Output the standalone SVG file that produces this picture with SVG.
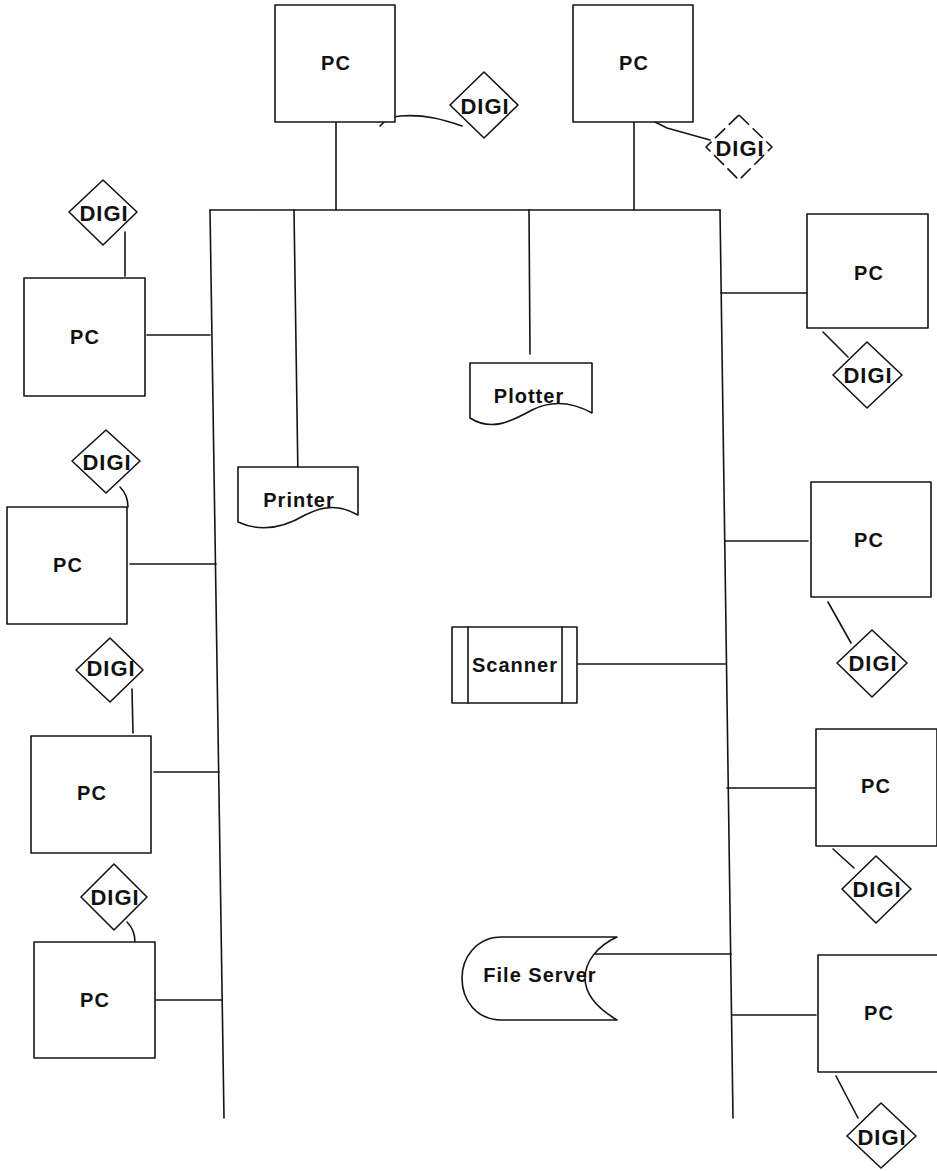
<svg xmlns="http://www.w3.org/2000/svg" width="937" height="1171" viewBox="0 0 937 1171">
<style>
.s{fill:none;stroke:#141414;stroke-width:1.6;stroke-linejoin:round;stroke-linecap:round}
.b{fill:#fff;stroke:#141414;stroke-width:1.6;stroke-linejoin:round}
.t{font-family:"Liberation Sans",Arial,sans-serif;font-weight:bold;font-size:20px;letter-spacing:1px;fill:#111;text-anchor:middle;dominant-baseline:central}
.d{font-family:"Liberation Sans",Arial,sans-serif;font-weight:bold;font-size:22px;letter-spacing:1px;fill:#111;text-anchor:middle;dominant-baseline:central}
.dash{stroke-dasharray:14 5}
</style>
<rect width="937" height="1171" fill="#fff"/>
<g id="connectors" class="s">
  <polyline points="210,210 720,210"/>
  <polyline points="210,210 224,1118"/>
  <polyline points="720,210 733,1118"/>
  <line x1="336" y1="122" x2="336" y2="210"/>
  <line x1="634" y1="122" x2="634" y2="210"/>
  <line x1="294" y1="210" x2="298" y2="479"/>
  <line x1="529" y1="210" x2="530" y2="354"/>
  <line x1="147" y1="335" x2="210" y2="335"/>
  <line x1="130" y1="564" x2="216" y2="564"/>
  <line x1="154" y1="772" x2="219" y2="772"/>
  <line x1="156" y1="1000" x2="222" y2="1000"/>
  <line x1="721" y1="293" x2="807" y2="293"/>
  <line x1="725" y1="541" x2="808" y2="541"/>
  <line x1="578" y1="664" x2="726" y2="664"/>
  <line x1="727" y1="788" x2="815" y2="788"/>
  <line x1="586" y1="954" x2="731" y2="954"/>
  <line x1="732" y1="1015" x2="816" y2="1015"/>
  <path d="M380,126 C385,120 390,117 400,116 C425,114 445,120 462,126"/>
  <polyline points="655,122 667,128 710,140"/>
  <line x1="125" y1="232" x2="125" y2="276"/>
  <path d="M120,487 Q128,495 128,507"/>
  <line x1="132" y1="689" x2="133" y2="733"/>
  <path d="M127,922 Q135,930 135,942"/>
  <line x1="823" y1="332" x2="848" y2="357"/>
  <line x1="828" y1="602" x2="851" y2="643"/>
  <line x1="833" y1="849" x2="854" y2="868"/>
  <line x1="836" y1="1076" x2="858" y2="1118"/>
</g>
<g id="pc-top1"><rect class="b" x="275" y="5" width="120" height="117"/><text class="t" x="336" y="63">PC</text></g>
<g id="pc-top2"><rect class="b" x="573" y="5" width="120" height="117"/><text class="t" x="634" y="63">PC</text></g>
<g id="pc-left1"><rect class="b" x="24" y="278" width="121" height="118"/><text class="t" x="85" y="337">PC</text></g>
<g id="pc-left2"><rect class="b" x="7" y="507" width="120" height="117"/><text class="t" x="68" y="565">PC</text></g>
<g id="pc-left3"><rect class="b" x="31" y="736" width="120" height="117"/><text class="t" x="92" y="793">PC</text></g>
<g id="pc-left4"><rect class="b" x="34" y="942" width="121" height="116"/><text class="t" x="95" y="1000">PC</text></g>
<g id="pc-right1"><rect class="b" x="807" y="214" width="121" height="114"/><text class="t" x="869" y="273">PC</text></g>
<g id="pc-right2"><rect class="b" x="811" y="482" width="120" height="115"/><text class="t" x="869" y="540">PC</text></g>
<g id="pc-right3"><rect class="b" x="816" y="729" width="121" height="117"/><text class="t" x="876" y="786">PC</text></g>
<g id="pc-right4"><rect class="b" x="818" y="955" width="122" height="117"/><text class="t" x="879" y="1013">PC</text></g>
<g id="digi-top1"><polygon class="b" points="484,72 518,105 484,138 450,105"/><text class="d" x="485" y="106">DIGI</text></g>
<g id="digi-top2"><polygon class="b dash" points="739,115 772,147 739,180 706,147"/><text class="d" x="740" y="148">DIGI</text></g>
<g id="digi-left1"><polygon class="b" points="103,180 137,212 103,245 69,212"/><text class="d" x="104" y="213">DIGI</text></g>
<g id="digi-left2"><polygon class="b" points="106,430 140,461 106,493 72,461"/><text class="d" x="107" y="462">DIGI</text></g>
<g id="digi-left3"><polygon class="b" points="110,638 143,670 110,702 76,670"/><text class="d" x="111" y="668">DIGI</text></g>
<g id="digi-left4"><polygon class="b" points="114,864 147,897 114,930 81,897"/><text class="d" x="115" y="897">DIGI</text></g>
<g id="digi-right1"><polygon class="b" points="867,342 902,375 867,408 833,375"/><text class="d" x="868" y="375">DIGI</text></g>
<g id="digi-right2"><polygon class="b" points="872,630 907,663 872,697 837,663"/><text class="d" x="873" y="663">DIGI</text></g>
<g id="digi-right3"><polygon class="b" points="876,856 911,889 876,923 842,889"/><text class="d" x="877" y="889">DIGI</text></g>
<g id="digi-right4"><polygon class="b" points="881,1103 916,1136 881,1168 847,1136"/><text class="d" x="882" y="1137">DIGI</text></g>
<g id="printer"><path class="b" d="M238,467 H358 V515 C340,505 325,505 305,515 C285,527 262,533 238,522 Z"/><text class="t" x="299" y="500">Printer</text></g>
<g id="plotter"><path class="b" d="M470,363 H592 V413 C572,402 552,400 532,410 C512,421 492,432 470,418 Z"/><text class="t" x="529" y="396">Plotter</text></g>
<g id="scanner"><rect class="b" x="452" y="627" width="125" height="76"/><line class="s" x1="468" y1="627" x2="468" y2="703"/><line class="s" x1="562" y1="627" x2="562" y2="703"/><text class="t" x="515" y="665">Scanner</text></g>
<g id="file-server"><path class="b" d="M617,937 L502,937 C476,937 462,958 462,978 C462,1000 476,1020 502,1020 L617,1020 C597,1008 585,994 585,978 C585,962 597,946 617,937 Z"/><text class="t" x="540" y="975">File Server</text></g>
</svg>
